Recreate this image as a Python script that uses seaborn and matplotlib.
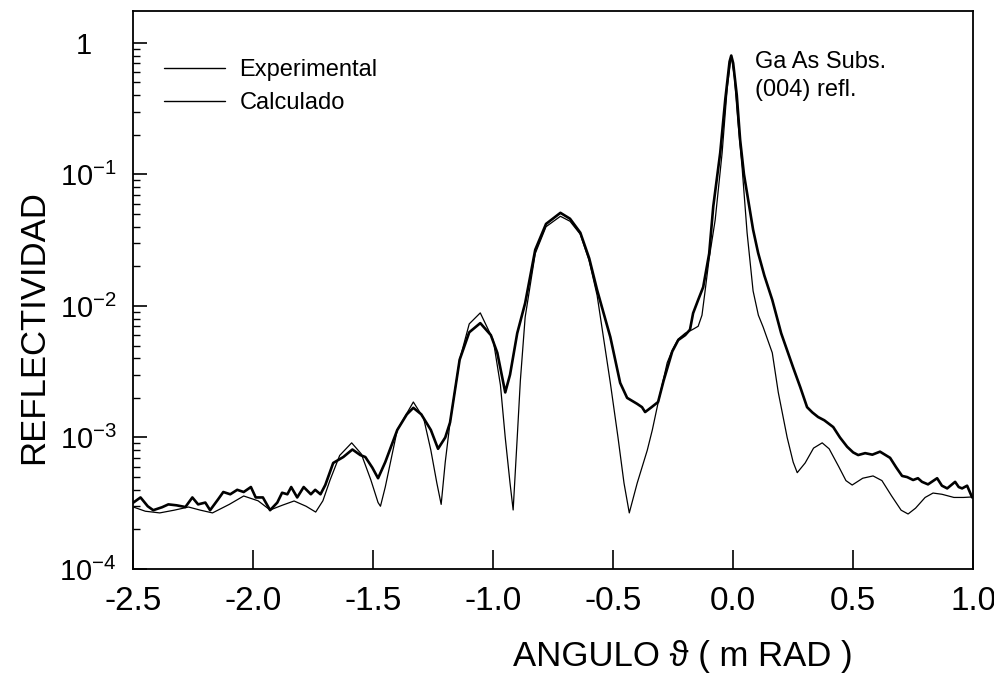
import numpy as np
import pandas as pd
import seaborn as sns
import matplotlib
matplotlib.use("Agg")
import matplotlib.pyplot as plt
from matplotlib.ticker import LogLocator, FixedLocator, FixedFormatter, NullFormatter

# experimental curve (angle in mrad, reflectivity)
exp_x = [-2.50, -2.47, -2.44, -2.417, -2.38, -2.354, -2.32, -2.283, -2.254, -2.23,
         -2.20, -2.18, -2.146, -2.125, -2.096, -2.067, -2.04, -2.01, -1.99, -1.96,
         -1.93, -1.90, -1.88, -1.858, -1.842, -1.817, -1.79, -1.76, -1.742, -1.72,
         -1.70, -1.667, -1.625, -1.587, -1.554, -1.533, -1.504, -1.48, -1.45, -1.40,
         -1.36, -1.333, -1.30, -1.26, -1.23, -1.20, -1.18, -1.14, -1.10, -1.054,
         -1.01, -0.983, -0.95, -0.93, -0.90, -0.867, -0.825, -0.78, -0.72, -0.68,
         -0.637, -0.60, -0.567, -0.512, -0.471, -0.442, -0.40, -0.38, -0.367, -0.34,
         -0.313, -0.29, -0.254, -0.229, -0.20, -0.18, -0.167, -0.146, -0.125, -0.10,
         -0.083, -0.054, -0.033, -0.015, -0.008, 0.0, 0.015, 0.029, 0.045, 0.0625,
         0.083, 0.104, 0.13, 0.163, 0.20, 0.25, 0.28, 0.308, 0.33, 0.354,
         0.38, 0.417, 0.445, 0.475, 0.50, 0.521, 0.55, 0.58, 0.612, 0.654,
         0.68, 0.704, 0.725, 0.75, 0.77, 0.787, 0.812, 0.85, 0.87, 0.892,
         0.925, 0.94, 0.954, 0.975, 0.996]
exp_y = [3.2e-4, 3.5e-4, 3.0e-4, 2.8e-4, 2.95e-4, 3.1e-4, 3.05e-4, 2.96e-4, 3.5e-4, 3.1e-4,
         3.2e-4, 2.8e-4, 3.4e-4, 3.85e-4, 3.7e-4, 4.0e-4, 3.85e-4, 4.2e-4, 3.5e-4, 3.5e-4,
         2.8e-4, 3.2e-4, 3.8e-4, 3.7e-4, 4.2e-4, 3.5e-4, 4.2e-4, 3.7e-4, 4.0e-4, 3.7e-4,
         4.35e-4, 6.4e-4, 7.1e-4, 8.1e-4, 7.35e-4, 7.1e-4, 5.9e-4, 4.9e-4, 6.5e-4, 1.14e-3,
         1.5e-3, 1.68e-3, 1.5e-3, 1.14e-3, 8.2e-4, 1.0e-3, 1.3e-3, 3.9e-3, 6.3e-3, 7.4e-3,
         6.0e-3, 4.4e-3, 2.2e-3, 3.0e-3, 6.2e-3, 1.05e-2, 2.67e-2, 4.2e-2, 5.1e-2, 4.6e-2,
         3.6e-2, 2.3e-2, 1.32e-2, 5.8e-3, 2.6e-3, 2.0e-3, 1.8e-3, 1.7e-3, 1.56e-3, 1.7e-3,
         1.86e-3, 2.7e-3, 4.5e-3, 5.5e-3, 6.0e-3, 6.6e-3, 8.8e-3, 1.11e-2, 1.39e-2, 2.5e-2,
         5.7e-2, 0.146, 0.37, 0.72, 0.80, 0.70, 0.40, 0.183, 0.10, 6.4e-2,
         3.8e-2, 2.53e-2, 1.7e-2, 1.11e-2, 6.2e-3, 3.4e-3, 2.4e-3, 1.7e-3, 1.55e-3, 1.43e-3,
         1.35e-3, 1.2e-3, 1.0e-3, 8.5e-4, 7.7e-4, 7.35e-4, 7.6e-4, 7.4e-4, 7.8e-4, 7.0e-4,
         5.9e-4, 5.1e-4, 5.0e-4, 4.75e-4, 4.9e-4, 4.6e-4, 4.4e-4, 4.9e-4, 4.3e-4, 4.1e-4,
         4.6e-4, 4.2e-4, 4.1e-4, 4.3e-4, 3.5e-4]

# calculated curve
calc_x = [-2.50, -2.45, -2.39, -2.33, -2.27, -2.22, -2.17, -2.10, -2.04, -1.98,
          -1.93, -1.88, -1.83, -1.78, -1.74, -1.71, -1.68, -1.64, -1.59, -1.55,
          -1.51, -1.48, -1.47, -1.45, -1.40, -1.333, -1.29, -1.26, -1.235, -1.217,
          -1.20, -1.18, -1.14, -1.10, -1.054, -1.00, -0.97, -0.95, -0.93, -0.917,
          -0.90, -0.887, -0.867, -0.825, -0.78, -0.72, -0.68, -0.637, -0.60, -0.567,
          -0.512, -0.48, -0.455, -0.433, -0.40, -0.358, -0.337, -0.313, -0.275, -0.254,
          -0.229, -0.20, -0.17, -0.146, -0.13, -0.117, -0.10, -0.075, -0.046, -0.025,
          -0.008, 0.005, 0.02, 0.037, 0.058, 0.083, 0.105, 0.125, 0.163, 0.188,
          0.225, 0.25, 0.267, 0.30, 0.335, 0.371, 0.40, 0.44, 0.47, 0.496,
          0.54, 0.583, 0.62, 0.66, 0.70, 0.729, 0.76, 0.80, 0.833, 0.87,
          0.92, 0.96, 0.996]
calc_y = [2.96e-4, 2.75e-4, 2.67e-4, 2.8e-4, 2.96e-4, 2.8e-4, 2.67e-4, 3.1e-4, 3.59e-4, 3.3e-4,
          2.81e-4, 3.05e-4, 3.29e-4, 3.0e-4, 2.71e-4, 3.3e-4, 4.75e-4, 7.3e-4, 9.1e-4, 7.5e-4,
          4.75e-4, 3.2e-4, 3.0e-4, 4.2e-4, 1.14e-3, 1.86e-3, 1.4e-3, 8.0e-4, 4.5e-4, 3.1e-4,
          6.5e-4, 1.3e-3, 3.9e-3, 7.3e-3, 8.85e-3, 5.5e-3, 2.5e-3, 1.0e-3, 4.5e-4, 2.81e-4,
          1.0e-3, 2.7e-3, 8.2e-3, 2.5e-2, 4.0e-2, 4.8e-2, 4.4e-2, 3.5e-2, 2.2e-2, 1.2e-2,
          2.6e-3, 1.0e-3, 4.5e-4, 2.67e-4, 4.5e-4, 8.0e-4, 1.14e-3, 1.83e-3, 3.7e-3, 4.6e-3,
          5.6e-3, 6.2e-3, 6.6e-3, 7.0e-3, 8.5e-3, 1.3e-2, 2.3e-2, 4.5e-2, 0.146, 0.45,
          0.80, 0.55, 0.25, 0.114, 3.6e-2, 1.3e-2, 8.5e-3, 6.9e-3, 4.4e-3, 2.2e-3,
          1.0e-3, 6.5e-4, 5.4e-4, 6.4e-4, 8.3e-4, 9.1e-4, 8.2e-4, 6.0e-4, 4.7e-4, 4.35e-4,
          4.9e-4, 5.1e-4, 4.7e-4, 3.6e-4, 2.8e-4, 2.62e-4, 2.9e-4, 3.5e-4, 3.78e-4, 3.7e-4,
          3.5e-4, 3.5e-4, 3.53e-4]

x_ticks = [-2.5, -2.0, -1.5, -1.0, -0.5, 0.0, 0.5, 1.0]
x_labels = ["-2.5", "-2.0", "-1.5", "-1.0", "-0.5", "0.0", "0.5", "1.0"]
y_ticks = [1e-4, 1e-3, 1e-2, 1e-1, 1]
y_labels = [r"$10^{-4}$", r"$10^{-3}$", r"$10^{-2}$", r"$10^{-1}$", "1   "]

sns.set_theme(style="ticks")
plt.rcParams["font.family"] = ["Liberation Sans", "DejaVu Sans"]
plt.rcParams["mathtext.fontset"] = "custom"
plt.rcParams["mathtext.rm"] = "Liberation Sans"
plt.rcParams["mathtext.it"] = "Liberation Sans:italic"
plt.rcParams["mathtext.bf"] = "Liberation Sans:bold"
plt.rcParams["text.color"] = "black"
plt.rcParams["axes.labelcolor"] = "black"

df_exp = pd.DataFrame({"angle": exp_x, "refl": exp_y})
df_calc = pd.DataFrame({"angle": calc_x, "refl": calc_y})

fig = plt.figure(figsize=(9.95, 6.77), dpi=100)
ax = fig.add_axes([0.134, 0.1595, 0.844, 0.8245])

sns.lineplot(data=df_exp, x="angle", y="refl", ax=ax, color="black", lw=1.9,
             sort=False, estimator=None, label="Experimental")
sns.lineplot(data=df_calc, x="angle", y="refl", ax=ax, color="black", lw=0.9,
             sort=False, estimator=None, label="Calculado")

ax.set_yscale("log")
ax.set_xlim(-2.5, 1.0)
ax.set_ylim(1e-4, 1.75)

ax.xaxis.set_major_locator(FixedLocator(x_ticks))
ax.xaxis.set_major_formatter(FixedFormatter(x_labels))
ax.yaxis.set_major_locator(FixedLocator(y_ticks))
ax.yaxis.set_major_formatter(FixedFormatter(y_labels))
ax.yaxis.set_minor_locator(LogLocator(base=10, subs=np.arange(2, 10), numticks=20))
ax.yaxis.set_minor_formatter(NullFormatter())

ax.tick_params(axis="both", which="major", direction="in", length=10, width=1.2,
               labelsize=24, colors="black")
ax.tick_params(axis="x", which="major", length=14, pad=12)
ax.tick_params(axis="y", which="major", pad=12, labelsize=21)
ax.tick_params(axis="y", which="minor", direction="in", length=5, width=1.0, colors="black")
for s in ax.spines.values():
    s.set_visible(True)
    s.set_linewidth(1.3)
    s.set_color("black")

ax.set_xlabel("")
ax.set_ylabel("")
fig.text(0.686, 0.03, "ANGULO ϑ ( m RAD )", fontsize=25, ha="center", va="center",
         family=["Liberation Sans", "DejaVu Sans"])
fig.text(0.034, 0.517, "REFLECTIVIDAD", fontsize=25, rotation=90, ha="center", va="center")

leg = ax.legend(loc="upper left", bbox_to_anchor=(0.025, 0.93), frameon=False,
                fontsize=17, handlelength=2.6, handletextpad=0.6, labelspacing=0.45,
                borderaxespad=0)
for line in leg.get_lines():
    line.set_linewidth(1.0)

ax.text(0.740, 0.909, "Ga As Subs.", transform=ax.transAxes, fontsize=17, va="center")
ax.text(0.740, 0.858, "(004) refl.", transform=ax.transAxes, fontsize=17, va="center")

fig.savefig("out.png", dpi=100)
